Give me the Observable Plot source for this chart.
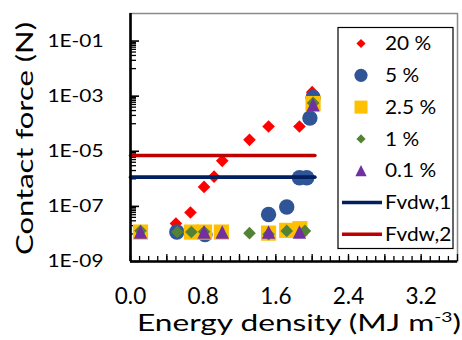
<!DOCTYPE html>
<html><head><meta charset="utf-8">
<script src="https://cdn.jsdelivr.net/npm/d3@7"></script>
<script src="https://cdn.jsdelivr.net/npm/@observablehq/plot@0.6"></script>
<style>
body{margin:0;background:#fff}
#chart{position:relative;width:462px;height:340px;overflow:hidden}
</style>
</head><body><div id="chart"></div>
<script>
// ---- data ----
const seriesNames = ["20 %", "5 %", "2.5 %", "1 %", "0.1 %"];
const x20 = [0.50, 0.66, 0.81, 0.92, 1.01, 1.31, 1.52, 1.86, 2.00];
const y20 = [2.4e-8, 6.0e-8, 5.1e-7, 1.2e-6, 4.5e-6, 2.6e-5, 7.9e-5, 7.9e-5, 1.4e-3];
const x5 = [0.51, 0.82, 1.52, 1.72, 1.86, 1.94, 1.975, 2.01];
const y5 = [1.17e-8, 9.5e-9, 5.1e-8, 9.5e-8, 1.1e-6, 1.1e-6, 1.6e-4, 8.9e-4];
const x25 = [0.11, 0.67, 0.815, 1.0, 1.52, 1.72, 1.865, 2.01];
const y25 = [1.17e-8, 1.17e-8, 1.17e-8, 1.17e-8, 1.07e-8, 1.35e-8, 1.55e-8, 5.4e-4];
const x1 = [0.11, 0.515, 0.67, 0.81, 1.31, 1.52, 1.72, 1.92, 2.01];
const y1 = [1.3e-8, 1.17e-8, 1.17e-8, 1.2e-8, 1.07e-8, 9.7e-9, 1.29e-8, 1.29e-8, 5.7e-4];
const x01 = [0.11, 0.81, 1.01, 1.52, 1.86, 2.01];
const y01 = [1.17e-8, 1.17e-8, 1.17e-8, 1.17e-8, 1.17e-8, 4.9e-4];
const lineNames = ["Fvdw,1", "Fvdw,2"];
const fvdwX = [0, 2.03];
const fvdw1 = [1.15e-6, 1.15e-6];
const fvdw2 = [7.0e-6, 7.0e-6];
const xTicks = [0, 0.8, 1.6, 2.4, 3.2];
const yTicks = [1e-1, 1e-3, 1e-5, 1e-7, 1e-9];
const yTickLabels = ["1E-01", "1E-03", "1E-05", "1E-07", "1E-09"];

// ---- styles ----
const colors = ["#FF0000", "#2F5597", "#FFC000", "#548235", "#7030A0"];
const lineColors = ["#002060", "#C00000"];
const diamond = {draw(c, s){const r=Math.sqrt(s/Math.PI);c.moveTo(0,-r);c.lineTo(r,0);c.lineTo(0,r);c.lineTo(-r,0);c.closePath();}};
const square = {draw(c, s){const r=Math.sqrt(s/Math.PI);c.moveTo(-r,-r);c.lineTo(r,-r);c.lineTo(r,r);c.lineTo(-r,r);c.closePath();}};
const triangle = {draw(c, s){const r=Math.sqrt(s/Math.PI);c.moveTo(0,-r);c.lineTo(r,r);c.lineTo(-r,r);c.closePath();}};
const circle = {draw(c, s){const r=Math.sqrt(s/Math.PI);c.moveTo(r,0);c.arc(0,0,r,0,2*Math.PI);c.closePath();}};
const symbols = [diamond, circle, square, diamond, triangle];
const sizes = [6.3, 7.7, 7.6, 6.3, 6.7];
const legendSizes = [4.6, 6.6, 6.5, 4.6, 5.6];

const xs = [x20, x5, x25, x1, x01];
const ys = [y20, y5, y25, y1, y01];
const series = seriesNames.map((name, i) => xs[i].map((x, j) => ({x, y: ys[i][j], name})));
const lines = [fvdw1, fvdw2].map((ys2, i) => fvdwX.map((x, j) => ({x, y: ys2[j], name: lineNames[i]})));

const xMinor = d3.range(0, 36).map(i => i / 10);
const xMajor = d3.range(0, 10).map(i => i * 0.4);
const yMinor = [];
for (const e of [-2, -4, -6, -8]) for (let k = 1; k <= 9; k++) yMinor.push(k * Math.pow(10, e));

const plot = Plot.plot({
  width: 462, height: 340,
  marginLeft: 130, marginRight: 5, marginTop: 13, marginBottom: 79,
  style: {fontFamily: "Lato", background: "white", color: "black"},
  x: {domain: [0, 3.6], label: null},
  y: {type: "log", domain: [1e-9, 1], label: null},
  marks: [
    Plot.frame({stroke: "#8a8a8a", strokeWidth: 1.5}),
    Plot.axisX(xMinor, {tickSize: -5, tickFormat: () => "", stroke: "black", strokeWidth: 1.3}),
    Plot.axisX(xMajor, {tickSize: -7, tickFormat: () => "", stroke: "black", strokeWidth: 1.3}),
    Plot.axisY(yMinor, {tickSize: -6, tickFormat: () => "", stroke: "black", strokeWidth: 1.3}),
    Plot.axisY(yTicks, {tickSize: -9, tickFormat: () => "", stroke: "black", strokeWidth: 1.6}),
    Plot.axisX(xTicks, {tickSize: 0, tickPadding: 27, tickFormat: d3.format(".1f"), fontSize: 22.5, fill: "black"}),
    Plot.axisY(yTicks, {tickSize: 0, tickPadding: 27, tickFormat: d => yTickLabels[yTicks.indexOf(d)], fontSize: 17.7, fill: "black"}),
    ...series.map((s, i) => Plot.dot(s, {x: "x", y: "y", symbol: symbols[i], r: sizes[i], fill: colors[i], stroke: "none"})),
    ...lines.map((l, i) => Plot.line(l, {x: "x", y: "y", stroke: lineColors[i], strokeWidth: 3.6})),
    Plot.ruleX([0], {stroke: "black", strokeWidth: 2.6}),
    Plot.ruleY([1e-9], {stroke: "black", strokeWidth: 2.4})
  ]
});
document.getElementById("chart").appendChild(plot);

const svg = d3.select(plot);
function stretchTo(node, w){ node.setAttribute("textLength", w); node.setAttribute("lengthAdjust", "spacingAndGlyphs"); }
// y tick labels are wide in the reference
svg.selectAll("text").filter(function(){ return yTickLabels.includes(this.textContent); }).each(function(){ stretchTo(this, 56); });

// axis titles
const xt = svg.append("text").attr("x", 137).attr("y", 331).attr("text-anchor", "start")
  .attr("font-family", "Lato").attr("font-size", 23).attr("fill", "black");
xt.append("tspan").text("Energy density (MJ m");
xt.append("tspan").attr("font-size", 14).attr("dy", -9).text("-3");
xt.append("tspan").attr("dy", 9).text(")");
stretchTo(xt.node(), 324);

const yt = svg.append("text").attr("transform", "translate(33,138.5) rotate(-90)").attr("text-anchor", "middle")
  .attr("font-family", "Lato").attr("font-size", 23).attr("fill", "black").text("Contact force (N)");
stretchTo(yt.node(), 233);

// legend
const lg = svg.append("g").attr("font-family", "Lato").attr("font-size", 18.6).attr("text-anchor", "start");
lg.append("rect").attr("x", 338).attr("y", 27.5).attr("width", 115).attr("height", 221).attr("fill", "white").attr("stroke", "black").attr("stroke-width", 1.2);
const rowY = i => 43.5 + i * 31.8;
seriesNames.forEach((name, i) => {
  const p = d3.path();
  const r = legendSizes[i];
  symbols[i].draw(p, r * r * Math.PI);
  lg.append("path").attr("d", p.toString()).attr("transform", `translate(361,${rowY(i)})`).attr("fill", colors[i]);
  const t = lg.append("text").attr("x", 385).attr("y", rowY(i) + 6.7).attr("fill", "black").text(name);
  stretchTo(t.node(), t.node().getComputedTextLength() * 1.12);
});
lineNames.forEach((name, k) => {
  const i = k + 5;
  lg.append("line").attr("x1", 342).attr("x2", 382).attr("y1", rowY(i)).attr("y2", rowY(i)).attr("stroke", lineColors[k]).attr("stroke-width", 3.6);
  const t = lg.append("text").attr("x", 385).attr("y", rowY(i) + 6.7).attr("fill", "black").text(name);
  stretchTo(t.node(), t.node().getComputedTextLength() * 1.12);
});
</script>
</body></html>
